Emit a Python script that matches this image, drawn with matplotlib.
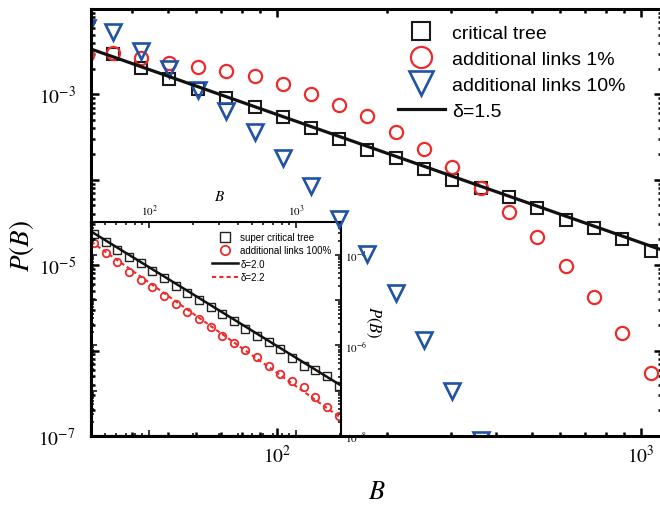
import numpy as np
import matplotlib
matplotlib.use("Agg")
import matplotlib.pyplot as plt
from matplotlib.ticker import LogLocator, FuncFormatter, NullFormatter

plt.rcParams['mathtext.fontset'] = 'stix'
plt.rcParams['font.family'] = ['Liberation Serif', 'DejaVu Serif']

# --- main panel data ---
B_tree = [35.4, 42.3, 50.6, 60.6, 72.5, 86.7, 103.7, 124, 148, 177,
          212, 254, 303, 363, 434, 519, 621, 743, 888, 1062]
P_tree = [2.94e-3, 2.01e-3, 1.50e-3, 1.17e-3, 8.98e-4, 7.04e-4, 5.38e-4, 4.00e-4, 2.98e-4, 2.21e-4,
          1.78e-4, 1.33e-4, 9.87e-5, 7.96e-5, 6.24e-5, 4.65e-5, 3.36e-5, 2.71e-5, 2.01e-5, 1.46e-5]

B_links1 = [30.0, 35.4, 42.3, 50.6, 60.6, 72.5, 86.7, 103.7, 124, 148, 177,
            212, 254, 303, 363, 434, 519, 621, 743, 888, 1062]
P_links1 = [2.9e-3, 3.02e-3, 2.64e-3, 2.31e-3, 2.12e-3, 1.86e-3, 1.62e-3, 1.31e-3, 1.00e-3, 7.44e-4, 5.53e-4,
            3.60e-4, 2.28e-4, 1.40e-4, 7.96e-5, 4.17e-5, 2.12e-5, 9.72e-6, 4.22e-6, 1.60e-6, 5.46e-7]

B_links10 = [30.0, 35.4, 42.3, 50.6, 60.6, 72.5, 86.7, 103.7, 124, 148, 177,
             212, 254, 303, 363]
P_links10 = [6.0e-3, 5.31e-3, 3.18e-3, 1.96e-3, 1.14e-3, 6.32e-4, 3.60e-4, 1.78e-4, 8.39e-5, 3.45e-5, 1.35e-5,
             4.71e-6, 1.33e-6, 3.36e-7, 8.9e-8]

delta_main = 1.5
C_main = 0.58

# --- inset data ---
B_in = [42.3, 50.8, 60.9, 73.1, 87.7, 105, 126, 152, 182, 218, 262,
        314, 377, 453, 543, 652, 782, 939, 1127, 1352, 1623, 1947]
P_super = [2.88e-4, 1.92e-4, 1.28e-4, 8.93e-5, 6.59e-5, 4.38e-5, 3.07e-5, 2.05e-5, 1.44e-5, 1.00e-5, 7.05e-6,
           4.93e-6, 3.46e-6, 2.30e-6, 1.62e-6, 1.19e-6, 8.34e-7, 5.27e-7, 3.51e-7, 2.86e-7, 2.11e-7, 1.27e-7]
P_links100 = [1.82e-4, 1.10e-4, 6.93e-5, 4.17e-5, 2.78e-5, 1.95e-5, 1.23e-5, 8.21e-6, 5.46e-6, 3.83e-6, 2.55e-6,
              1.62e-6, 1.13e-6, 7.91e-7, 5.55e-7, 3.51e-7, 2.34e-7, 1.64e-7, 1.21e-7, 7.26e-8, 4.36e-8, 2.77e-8]

delta_super, C_super = 2.0, 0.533
delta_100, C_100 = 2.29, 0.929   # slope as drawn, labelled 2.2

RED = '#ee2b2b'
BLUE = '#1f53a5'


def decade_fmt(offset):
    # label every second decade
    def f(v, pos):
        e = int(round(np.log10(v)))
        if (e - offset) % 2 == 0:
            return r"$10^{%d}$" % e
        return ""
    return FuncFormatter(f)


def log_ticks(a, xfmt, yfmt):
    for axis, fmt in ((a.xaxis, xfmt), (a.yaxis, yfmt)):
        axis.set_major_locator(LogLocator(base=10, numticks=20))
        axis.set_minor_locator(LogLocator(base=10, subs=np.arange(2, 10), numticks=20))
        axis.set_minor_formatter(NullFormatter())
        axis.set_major_formatter(fmt)


fig = plt.figure(figsize=(6.6, 5.06), dpi=100)

ax_in = fig.add_axes([0.1379, 0.1364, 0.3788, 0.4229], zorder=1)
# right spine of the main frame sits just past the image edge
ax = fig.add_axes([0.1379, 0.1364, 0.8652, 0.8439], zorder=2)
ax.patch.set_alpha(0)

# --- main panel ---
ax.plot(B_tree, P_tree, 's', ms=8.5, mfc='none', mec='#1a1a1a', mew=1.5, label='critical tree')
ax.plot(B_links1, P_links1, 'o', ms=9.5, mfc='none', mec=RED, mew=1.6, label='additional links 1%')
ax.plot(B_links10, P_links10, 'v', ms=11, mfc='none', mec=BLUE, mew=1.9, label='additional links 10%')

xlim = (30.8, 1142)
B_fit = np.array(xlim)
ax.plot(B_fit, C_main * B_fit ** -delta_main, '-', color='#111111', lw=2.3, label='δ=1.5')

ax.set_xscale('log')
ax.set_yscale('log')
ax.set_xlim(*xlim)
ax.set_ylim(1e-7, 1e-2)
log_ticks(ax, FuncFormatter(lambda v, p: r"$10^{%d}$" % round(np.log10(v))), decade_fmt(1))
ax.tick_params(which='both', direction='in', top=True, right=True, width=1.8, labelsize=14)
ax.tick_params(which='major', length=6)
ax.tick_params(which='minor', length=3)
ax.tick_params(axis='x', pad=6)
ax.tick_params(axis='y', pad=11)
for s in ax.spines.values():
    s.set_linewidth(2.2)

ax.set_xlabel('$B$', fontsize=19)
ax.xaxis.set_label_coords(0.5, -0.105)
ax.set_ylabel('$P(B)$', fontsize=19.5)
ax.yaxis.set_label_coords(-0.097, 0.447)

ax.legend(loc='upper left', bbox_to_anchor=(398 / 660, 1 - 25 / 506), bbox_transform=fig.transFigure,
          frameon=False, prop={'family': 'Liberation Sans', 'size': 14}, markerscale=1.6,
          handlelength=2.4, handletextpad=0.4, labelspacing=0.43, borderpad=0, borderaxespad=0)

# --- inset ---
ax_in.plot(B_in, P_super, 's', ms=5.8, mfc='none', mec='#222222', mew=1.0, label='super critical tree')
ax_in.plot(B_in, P_links100, 'o', ms=5.4, mfc='none', mec=RED, mew=1.3, label='additional links 100%')

xlim_in = (40.3, 2023)
B_fit_in = np.array(xlim_in)
ax_in.plot(B_fit_in, C_super * B_fit_in ** -delta_super, '-', color='#111111', lw=1.8, label='δ=2.0')
ax_in.plot(B_fit_in, C_100 * B_fit_in ** -delta_100, '--', color=RED, lw=1.5, dashes=(2, 1.5), label='δ=2.2')

ax_in.set_xscale('log')
ax_in.set_yscale('log')
ax_in.set_xlim(*xlim_in)
ax_in.set_ylim(1e-8, 5.3e-4)
log_ticks(ax_in, FuncFormatter(lambda v, p: r"$10^{%d}$" % round(np.log10(v))), decade_fmt(0))
ax_in.tick_params(which='both', direction='in', top=True, right=True, bottom=True, left=True,
                  labeltop=True, labelbottom=False, labelright=True, labelleft=False,
                  width=1.1, labelsize=8, pad=3)
ax_in.tick_params(which='major', length=4)
ax_in.tick_params(which='minor', length=2)
for s in ax_in.spines.values():
    s.set_linewidth(1.5)

ax_in.text(0.516, 1.121, '$B$', transform=ax_in.transAxes, ha='center', va='center', fontsize=11)
ax_in.text(1.13, 0.537, '$P(B)$', transform=ax_in.transAxes, ha='center', va='center',
           fontsize=12, rotation=270)

ax_in.legend(loc='upper left', bbox_to_anchor=(212 / 660, 1 - 233 / 506), bbox_transform=fig.transFigure,
             frameon=False, prop={'family': 'Liberation Sans', 'size': 7}, markerscale=1.25,
             handlelength=2.7, handletextpad=0.2, labelspacing=0.35, borderpad=0, borderaxespad=0)

fig.savefig('out.png', dpi=100, facecolor='white')
